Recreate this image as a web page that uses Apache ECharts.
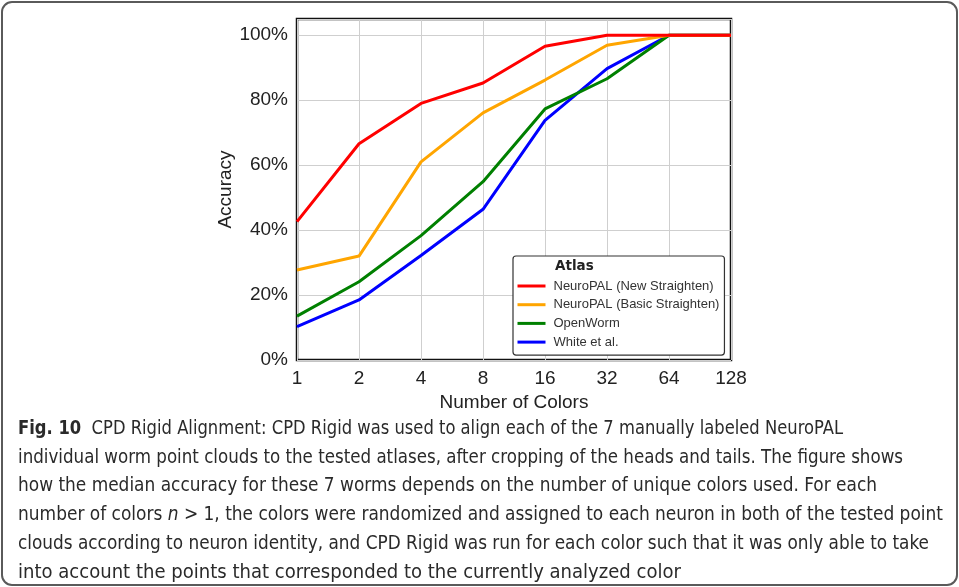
<!DOCTYPE html>
<html>
<head>
<meta charset="utf-8">
<script src="https://cdn.jsdelivr.net/npm/echarts@6/dist/echarts.min.js"></script>
<style>
html,body{margin:0;padding:0;background:#fff;}
#wrap{position:relative;width:959px;height:587px;overflow:hidden;}
#chart{position:absolute;left:0;top:0;width:959px;height:587px;}
#frame{position:absolute;left:1px;top:1px;width:953px;height:581px;border:2px solid #5a5a5a;border-radius:11px;pointer-events:none;}
#caption{position:absolute;left:18px;top:413px;font-family:"Liberation Sans Narrow","DejaVu Sans Condensed","Liberation Sans",sans-serif;font-size:19px;color:#2a2a2a;}
#caption .ln{position:absolute;left:0;white-space:nowrap;transform-origin:0 50%;line-height:29px;}
#caption b{font-weight:bold;}
</style>
</head>
<body>
<div id="wrap">
<div id="chart"></div>
<div id="caption"></div>
<div id="frame"></div>
</div>
<script>
// ---- data ----
const colorCounts = [1, 2, 4, 8, 16, 32, 64, 128];
const seriesNames = ['NeuroPAL (New Straighten)', 'NeuroPAL (Basic Straighten)', 'OpenWorm', 'White et al.'];
const newStraighten   = [42.6, 66.6, 79.0, 85.3, 96.6, 100, 100, 100];
const basicStraighten = [27.7, 32.0, 61.0, 76.1, 86.2, 96.9, 100, 100];
const openWorm        = [13.5, 24.1, 38.3, 54.9, 77.3, 86.6, 100, 100];
const whiteEtAl       = [10.3, 18.5, 32.2, 46.4, 73.8, 89.7, 100, 100];
const yTicks = [0, 20, 40, 60, 80, 100];
const captionLines = [
  '<b>Fig. 10</b>&nbsp; CPD Rigid Alignment: CPD Rigid was used to align each of the 7 manually labeled NeuroPAL',
  'individual worm point clouds to the tested atlases, after cropping of the heads and tails. The figure shows',
  'how the median accuracy for these 7 worms depends on the number of unique colors used. For each',
  'number of colors <i>n</i> &gt; 1, the colors were randomized and assigned to each neuron in both of the tested point',
  'clouds according to neuron identity, and CPD Rigid was run for each color such that it was only able to take',
  'into account the points that corresponded to the currently analyzed color'
];
const captionWidths = [825, 885, 859, 925, 911, 663];

const colors = ['#ff0000', '#ffa500', '#008000', '#0000ff'];
const values = [newStraighten, basicStraighten, openWorm, whiteEtAl];

function pairs(v) { return colorCounts.map((c, i) => [c, v[i]]); }

const series = [];
// draw order: blue, green, orange, red (red on top)
[3, 2, 1, 0].forEach(i => {
  series.push({
    name: seriesNames[i],
    type: 'line',
    data: pairs(values[i]),
    showSymbol: false,
    symbol: 'none',
    lineStyle: { color: colors[i], width: 3 },
    itemStyle: { color: colors[i] },
    z: 3 + (3 - i),
    animation: false
  });
});

const chart = echarts.init(document.getElementById('chart'));
chart.setOption({
  animation: false,
  backgroundColor: '#fff',
  grid: {
    left: 297, right: 228, top: 19, bottom: 227,
    show: true, borderColor: '#111', borderWidth: 2.5, backgroundColor: 'transparent'
  },
  xAxis: {
    type: 'log', logBase: 2, min: 1, max: 128,
    axisLine: { show: false }, axisTick: { show: false },
    splitLine: { show: true, lineStyle: { color: '#cfcfcf', width: 1 } },
    axisLabel: { fontSize: 19, color: '#222', margin: 9, fontFamily: 'Liberation Sans, Arial, sans-serif',
      formatter: v => String(Math.round(v)) },
    name: 'Number of Colors', nameLocation: 'middle', nameGap: 33,
    nameTextStyle: { fontSize: 19, color: '#222', fontFamily: 'Liberation Sans, Arial, sans-serif' }
  },
  yAxis: {
    type: 'value', min: 0, max: 105, interval: 20,
    axisLine: { show: false }, axisTick: { show: false },
    splitLine: { show: true, lineStyle: { color: '#cfcfcf', width: 1 } },
    axisLabel: { fontSize: 19, color: '#222', margin: 9, fontFamily: 'Liberation Sans, Arial, sans-serif',
      showMaxLabel: false,
      formatter: v => (yTicks.indexOf(v) >= 0 ? v + '%' : '') },
    name: 'Accuracy', nameLocation: 'middle', nameGap: 60, nameRotate: 90,
    nameTextStyle: { fontSize: 19, color: '#222', fontFamily: 'Liberation Sans, Arial, sans-serif' }
  },
  legend: {
    orient: 'vertical', left: 513, top: 256,
    data: seriesNames.map((n, i) => ({ name: n, icon: 'rect', itemStyle: { color: colors[i] } })),
    itemWidth: 28, itemHeight: 3, itemGap: 2.7,
    padding: [22, 5, 5, 4.5],
    backgroundColor: '#fff', borderColor: '#333', borderWidth: 1.2, borderRadius: 3,
    textStyle: { fontSize: 13, color: '#333', lineHeight: 16, fontFamily: 'Liberation Sans, Arial, sans-serif', padding: [0, 0, 0, 3] },
    selectedMode: false
  },
  graphic: [{
    type: 'text', left: 555, top: 259, z: 100,
    style: { text: 'Atlas', fontSize: 13.5, fontWeight: 'bold', fill: '#222', fontFamily: 'DejaVu Sans, sans-serif' }
  }],
  series: series
});

// caption
const cap = document.getElementById('caption');
captionLines.forEach((t, i) => {
  const d = document.createElement('div');
  d.className = 'ln';
  d.style.top = (i * 28.7) + 'px';
  d.innerHTML = t;
  cap.appendChild(d);
  const w = d.getBoundingClientRect().width;
  d.style.transform = 'scaleX(' + (captionWidths[i] / w) + ')';
});
</script>
</body>
</html>
